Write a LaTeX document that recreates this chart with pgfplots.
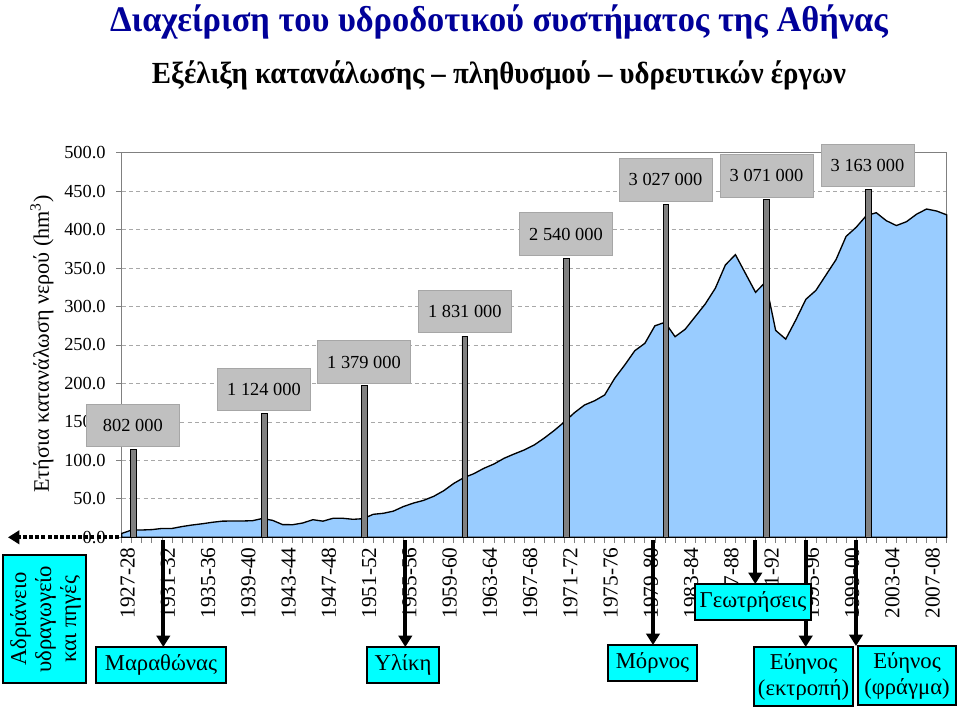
\documentclass[border=0pt]{standalone}
\usepackage{fontspec}
\setmainfont{Liberation Serif}
\newfontfamily\titlefont[FakeStretch=0.955]{Liberation Serif}
\newfontfamily\subtitlefont[FakeStretch=0.94]{Liberation Serif}
\usepackage{pgfplots}
\pgfplotsset{compat=1.18}
\usetikzlibrary{arrows.meta}
\definecolor{areablue}{HTML}{99CCFF}
\definecolor{boxgray}{HTML}{C0C0C0}
\definecolor{boxedge}{HTML}{A6A6A6}
\definecolor{titleblue}{HTML}{000099}
\definecolor{gridgray}{HTML}{A8A8A8}
\definecolor{barGray}{HTML}{808080}
\definecolor{cyanbox}{HTML}{00FFFF}
\pgfplotstableread{
i v
0 5
1 9.5
2 9.5
3 10
4 11.5
5 11.5
6 14
7 16
8 17.6
9 19.5
10 21
11 21.2
12 21.2
13 21.6
14 24.5
15 22
16 16.5
17 16.4
18 18.6
19 22.9
20 21
21 24.7
22 24.7
23 23.4
24 24.2
25 29.9
26 31.2
27 34
28 40
29 44.5
30 48
31 53.2
32 60.5
33 70
34 77.5
35 82.7
36 89.7
37 95.3
38 102.7
39 108.3
40 113.5
41 120
42 129
43 139
44 150
45 162
46 172
47 177.5
48 185
49 206.7
50 224
51 242.6
52 252.2
53 275
54 279.5
55 260.8
56 270.4
57 286.8
58 303.3
59 323.7
60 354
61 367.5
62 343
63 318.5
64 332
65 269
66 257.6
67 282.5
68 309.4
69 321
70 341
71 361
72 391.2
73 403
74 418
75 422
76 411.6
77 405.3
78 410.3
79 420
80 426.8
81 424.2
82 419.2
}\consumption
\begin{document}
\begin{tikzpicture}
\begin{scope}[x=0.75pt,y=-0.75pt]
\useasboundingbox (0,0) rectangle (960,710);
\end{scope}
\begin{axis}[
  at={(91.275pt,-402.975pt)}, anchor=south west,
  scale only axis, width=618.75pt, height=288.45pt,
  xmin=0, xmax=82, ymin=0, ymax=500,
  axis line style={draw=gray, line width=0.7pt},
  xtick={0,4,...,80},
  xticklabels={1927-28,1931-32,1935-36,1939-40,1943-44,1947-48,1951-52,1955-56,1959-60,1963-64,1967-68,1971-72,1975-76,1979-80,1983-84,1987-88,1991-92,1995-96,1999-00,2003-04,2007-08},
  minor xtick={0,1,...,82},
  ytick={0,50,...,500},
  xtick pos=bottom, ytick pos=left,
  tick align=outside,
  major tick length=4pt, minor tick length=4pt,
  tick style={draw=gray, line width=0.6pt},
  xticklabel style={rotate=90, anchor=east, yshift=-4.5pt, font=\fontsize{16}{18}\selectfont},
  yticklabel style={xshift=-4.5pt, font=\fontsize{13.8}{15}\selectfont},
  /pgf/number format/fixed, /pgf/number format/fixed zerofill,
  /pgf/number format/precision=1, /pgf/number format/assume math mode=true,
  ymajorgrids, grid style={draw=gridgray, dash pattern=on 3pt off 2.5pt, line width=0.6pt},
  clip=false,
]
\addplot[draw=black, line width=1pt, fill=areablue] table[x=i,y=v]{\consumption} \closedcycle;
\addplot[ybar, bar width=4.3pt, fill=barGray, draw=black, line width=0.6pt]
  coordinates {(1.15,114.6) (14.15,160.6) (24.1,197.0) (34.1,261.6) (44.2,362.9) (54.1,432.4) (64.1,438.7) (74.2,451.9)};
\end{axis}
\begin{scope}[x=0.75pt,y=-0.75pt]
% titles
\node[anchor=base, text=titleblue, font=\titlefont\bfseries\fontsize{27}{30}\selectfont] at (499,32) {Διαχείριση του υδροδοτικού συστήματος της Αθήνας};
\node[anchor=base, text=black, font=\subtitlefont\bfseries\fontsize{23}{26}\selectfont] at (499,84) {Εξέλιξη κατανάλωσης – πληθυσμού – υδρευτικών έργων};
% y label
\node[rotate=90, font=\fontsize{16.6}{18}\selectfont] at (42,344) {Ετήσια κατανάλωση νερού (hm\textsuperscript{3})};
% population boxes
\tikzset{pop/.style={fill=boxgray, draw=boxedge, line width=0.6pt, minimum width=69.75pt, minimum height=32pt, inner sep=0pt, font=\fontsize{13.8}{15}\selectfont}}
\node[pop] at (132.8,425.5) {802 000};
\node[pop] at (264,389.5) {1 124 000};
\node[pop] at (364,362) {1 379 000};
\node[pop] at (464.8,311.5) {1 831 000};
\node[pop] at (566,234.2) {2 540 000};
\node[pop] at (665.5,179.7) {3 027 000};
\node[pop] at (766.5,175.7) {3 071 000};
\node[pop] at (867.5,165.5) {3 163 000};
% arrows
\tikzset{arr/.style={line width=3pt, -{Triangle[width=10pt,length=8.5pt]}}}
\draw[arr] (163.3,540) -- (163.3,647);
\draw[arr] (405.3,540) -- (405.3,647);
\draw[arr] (653,540) -- (653,645);
\draw[arr] (755.3,540) -- (755.3,584);
\draw[arr] (805.7,540) -- (805.7,647);
\draw[arr] (856,540) -- (856,646);
\draw[line width=3pt, dash pattern=on 3pt off 1.6pt, -{Triangle[width=10pt,length=8.5pt]}] (119,537.3) -- (8,537.3);
% cyan boxes
\tikzset{cb/.style={fill=cyanbox, draw=black, line width=0.9pt}}
\tikzset{ct/.style={font=\fontsize{17}{19.5}\selectfont, align=center}}
\draw[cb] (3,555) rectangle (86,683);
\node[ct, rotate=90, font=\fontsize{17}{18.75}\selectfont] at (45.5,619) {Αδριάνειο\\υδραγωγείο\\και πηγές};
\draw[cb] (96,647) rectangle (226,683);
\node[ct] at (161,665) {Μαραθώνας};
\draw[cb] (367,647) rectangle (439,683);
\node[ct] at (403,665) {Υλίκη};
\draw[cb] (608,645) rectangle (697,681);
\node[ct] at (652.5,663) {Μόρνος};
\draw[cb] (695,584) rectangle (811,620);
\node[ct] at (753,602) {Γεωτρήσεις};
\draw[cb] (754,647) rectangle (853,706);
\node[ct] at (803.5,676.5) {Εύηνος\\(εκτροπή)};
\draw[cb] (858,646) rectangle (956,705);
\node[ct] at (907,675.5) {Εύηνος\\(φράγμα)};
\end{scope}
\end{tikzpicture}
\end{document}
